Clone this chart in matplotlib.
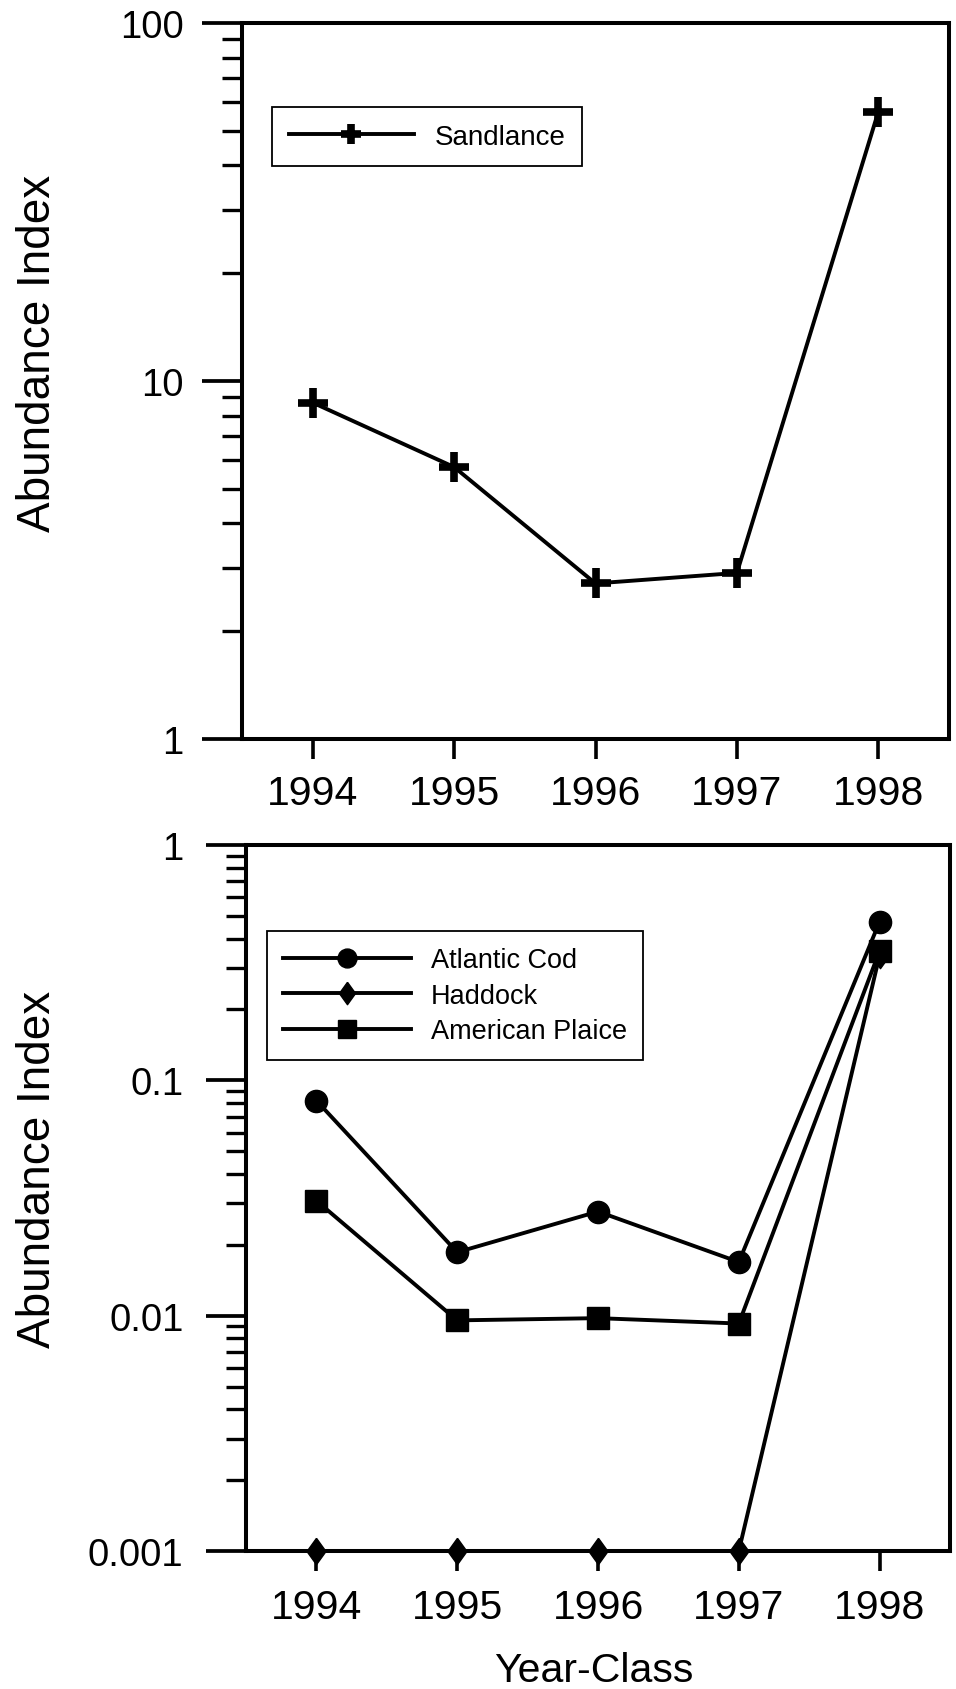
import matplotlib
matplotlib.use("Agg")
import matplotlib.pyplot as plt

plt.rcParams['font.family'] = ['Liberation Sans', 'DejaVu Sans']

years = [1994, 1995, 1996, 1997, 1998]
year_labels = ['1994', '1995', '1996', '1997', '1998']

sandlance = [8.7, 5.75, 2.72, 2.91, 56.5]

atlantic_cod = [0.082, 0.0186, 0.0277, 0.0169, 0.472]
haddock = [0.001, 0.001, 0.001, 0.001, 0.34]
american_plaice = [0.0308, 0.00955, 0.00976, 0.00926, 0.355]

top_yticks = [1, 10, 100]
top_ytick_labels = ['1', '10', '100']
bot_yticks = [0.001, 0.01, 0.1, 1]
bot_ytick_labels = ['0.001', '0.01', '0.1', '1']

W, H = 956, 1690
fig = plt.figure(figsize=(W / 100, H / 100), dpi=100)

ax1 = fig.add_axes([242 / W, 1 - 740 / H, 707 / W, 716 / H])
ax2 = fig.add_axes([246 / W, 1 - 1552 / H, 704 / W, 706 / H])

diamond = [(0, 1), (0.72, 0), (0, -1), (-0.72, 0), (0, 1)]
LW = 2.8

ax1.plot(years, sandlance, color='black', lw=LW, marker='+', ms=21, mew=5.5,
         label='Sandlance', clip_on=False, zorder=3)

ax2.plot(years, atlantic_cod, color='black', lw=LW, marker='o', ms=16,
         label='Atlantic Cod', clip_on=False, zorder=3)
ax2.plot(years, haddock, color='black', lw=LW, marker=diamond, ms=19,
         label='Haddock', clip_on=False, zorder=3)
ax2.plot(years, american_plaice, color='black', lw=LW, marker='s', ms=16,
         label='American Plaice', clip_on=False, zorder=3)

for ax, (lo, hi), yt, ytl, ypad, xpad in [
        (ax1, (1, 100), top_yticks, top_ytick_labels, 13, 11),
        (ax2, (0.001, 1), bot_yticks, bot_ytick_labels, 16, 12.5)]:
    ax.set_yscale('log')
    ax.set_ylim(lo, hi)
    ax.set_xlim(1993.5, 1998.5)
    ax.set_yticks(yt)
    ax.set_yticklabels(ytl)
    ax.set_xticks(years)
    ax.set_xticklabels(year_labels)
    ax.xaxis.set_minor_locator(matplotlib.ticker.NullLocator())
    for s in ax.spines.values():
        s.set_linewidth(2.9)
    ax.tick_params(axis='y', which='major', direction='out', length=29,
                   width=2.7, labelsize=27.5, pad=ypad, right=False)
    ax.tick_params(axis='y', which='minor', direction='out', length=14.5,
                   width=2.4, right=False)
    ax.tick_params(axis='x', which='major', direction='out', length=14.5,
                   width=2.6, labelsize=29.5, pad=xpad, top=False)
    ax.set_facecolor('white')

leg1 = ax1.legend(loc='upper left', bbox_to_anchor=(272 / W, 1 - 108 / H),
                  bbox_transform=fig.transFigure, fontsize=20,
                  frameon=True, fancybox=False, shadow=False, framealpha=1,
                  edgecolor='black', handlelength=4.5, handletextpad=0.75,
                  borderpad=0.6, borderaxespad=0, markerscale=0.7)
leg1.get_frame().set_linewidth(1.3)

leg2 = ax2.legend(loc='upper left', bbox_to_anchor=(267 / W, 1 - 932 / H),
                  bbox_transform=fig.transFigure, fontsize=19.5,
                  frameon=True, fancybox=False, shadow=False, framealpha=1,
                  edgecolor='black', handlelength=4.7, handletextpad=0.75,
                  borderpad=0.6, borderaxespad=0, labelspacing=0.35,
                  markerscale=0.85)
leg2.get_frame().set_linewidth(1.3)

fig.text(38 / W, 1 - 353 / H, 'Abundance Index', rotation=90, ha='center',
         va='center', fontsize=33)
fig.text(38 / W, 1 - 1169 / H, 'Abundance Index', rotation=90, ha='center',
         va='center', fontsize=33)
fig.text(594 / W, 1 - 1682 / H, 'Year-Class', ha='center', va='baseline',
         fontsize=29.5)

fig.savefig('out.png', dpi=100, facecolor='white')
